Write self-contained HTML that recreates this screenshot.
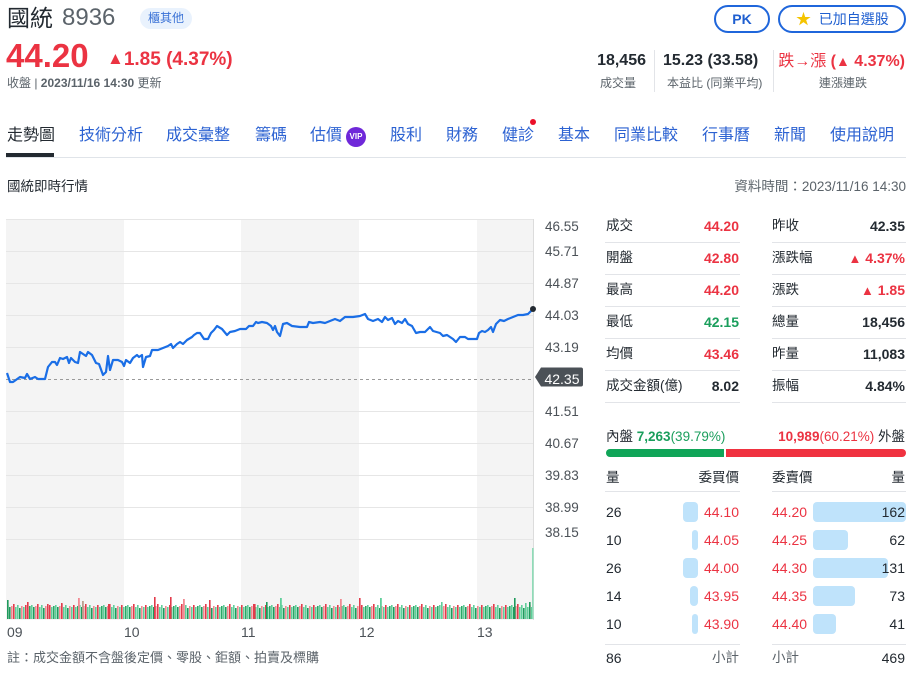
<!DOCTYPE html>
<html><head><meta charset="utf-8">
<style>
*{margin:0;padding:0;box-sizing:border-box}
body{width:914px;height:674px;background:#fff;overflow:hidden;font-family:"Liberation Sans","Noto Sans CJK TC",sans-serif;color:#232a31}
#w{position:relative;width:914px;height:674px}
.t{position:absolute;white-space:nowrap;line-height:20px;height:20px}
.r{color:#eb3342}.g{color:#1a9e5c}.b{font-weight:bold}
.gray{color:#5b636a}
.nav{color:#2c62d2;font-size:16px}
.sep{position:absolute;height:1px;background:#e2e4e8}
.bar{position:absolute;height:20px;background:#bfe3fb;border-radius:4px}
.tri{font-size:13px}
</style></head><body><div id="w">

<!-- Header -->
<div class="t" style="left:7px;top:5px;font-size:23px;line-height:26px;height:26px">國統</div>
<div class="t gray" style="left:62px;top:5px;font-size:24px;line-height:26px;height:26px">8936</div>
<div style="position:absolute;left:140px;top:8px;width:52px;height:21px;border-radius:11px;background:#e9f2fd;color:#3a72d6;font-size:12px;line-height:21px;text-align:center">櫃其他</div>

<div class="t r b" style="left:6px;top:37px;font-size:33px;line-height:38px;height:38px">44.20</div>
<div class="t r b" style="left:107px;top:49px;font-size:19px;line-height:22px;height:22px"><span style="font-size:17px;position:relative;top:-1px">▲</span>1.85 (4.37%)</div>
<div class="t gray" style="left:7px;top:73px;font-size:12px">收盤 | <b>2023/11/16 14:30</b> 更新</div>

<div style="position:absolute;left:714px;top:5px;width:56px;height:28px;border:2px solid #1f66db;border-radius:14px;color:#1f5fd0;font-weight:bold;font-size:14px;line-height:24px;text-align:center">PK</div>
<div style="position:absolute;left:778px;top:5px;width:128px;height:28px;border:2px solid #1f66db;border-radius:14px;color:#1f5fd0;font-size:14px;line-height:24px;text-align:left;padding-left:16px"><span style="color:#f5c400;font-size:15px">★</span>&nbsp; 已加自選股</div>

<div class="t b" style="right:268px;top:51px;font-size:16px">18,456</div>
<div class="t gray" style="left:600px;top:73px;font-size:12px">成交量</div>
<div style="position:absolute;left:654px;top:50px;width:1px;height:42px;background:#e2e4e8"></div>
<div class="t b" style="left:663px;top:51px;font-size:16px">15.23 (33.58)</div>
<div class="t gray" style="left:667px;top:73px;font-size:12px">本益比 (同業平均)</div>
<div style="position:absolute;left:773px;top:50px;width:1px;height:42px;background:#e2e4e8"></div>
<div class="t r" style="right:9px;top:51px;font-size:16px">跌→漲 <b>(<span style="font-size:14px">▲</span> 4.37%)</b></div>
<div class="t gray" style="left:819px;top:73px;font-size:12px">連漲連跌</div>

<!-- Nav -->
<div class="t" style="left:7px;top:126px;font-size:16px">走勢圖</div>
<div class="t nav" style="left:79px;top:126px">技術分析</div>
<div class="t nav" style="left:166px;top:126px">成交彙整</div>
<div class="t nav" style="left:255px;top:126px">籌碼</div>
<div class="t nav" style="left:310px;top:126px">估價</div>
<div style="position:absolute;left:346px;top:127px;width:20px;height:20px;border-radius:10px;background:#6f28d9;color:#fff;font-size:8px;font-weight:bold;line-height:20px;text-align:center">VIP</div>
<div class="t nav" style="left:390px;top:126px">股利</div>
<div class="t nav" style="left:446px;top:126px">財務</div>
<div class="t nav" style="left:502px;top:126px">健診</div>
<div style="position:absolute;left:530px;top:119px;width:6px;height:6px;border-radius:3px;background:#eb0f29"></div>
<div class="t nav" style="left:558px;top:126px">基本</div>
<div class="t nav" style="left:614px;top:126px">同業比較</div>
<div class="t nav" style="left:702px;top:126px">行事曆</div>
<div class="t nav" style="left:774px;top:126px">新聞</div>
<div class="t nav" style="left:830px;top:126px">使用說明</div>
<div style="position:absolute;left:6px;top:157px;width:900px;height:1px;background:#e0e4e9"></div>
<div style="position:absolute;left:6px;top:153px;width:48px;height:4px;background:#232a31"></div>

<div class="t" style="left:7px;top:177px;font-size:13.5px">國統即時行情</div>
<div class="t gray" style="right:8px;top:177px;font-size:13.5px">資料時間：2023/11/16 14:30</div>

<!-- Chart -->
<svg style="position:absolute;left:0;top:0" width="914" height="674" xmlns="http://www.w3.org/2000/svg">
<defs>
<pattern id="vp" patternUnits="userSpaceOnUse" x="7" y="599" width="24" height="20">
<rect x="0" y="6" width="1.6" height="14" fill="#5fcf9a"/>
<rect x="2" y="8" width="1.6" height="12" fill="#1f9a5c"/>
<rect x="4" y="7" width="1.6" height="13" fill="#f28a92"/>
<rect x="6" y="5" width="1.6" height="15" fill="#e23b4b"/>
<rect x="8" y="8" width="1.6" height="12" fill="#5fcf9a"/>
<rect x="10" y="6" width="1.6" height="14" fill="#5fcf9a"/>
<rect x="12" y="9" width="1.6" height="11" fill="#1f9a5c"/>
<rect x="14" y="7" width="1.6" height="13" fill="#f28a92"/>
<rect x="16" y="8" width="1.6" height="12" fill="#5fcf9a"/>
<rect x="18" y="6" width="1.6" height="14" fill="#e23b4b"/>
<rect x="20" y="8" width="1.6" height="12" fill="#5fcf9a"/>
<rect x="22" y="7" width="1.6" height="13" fill="#2aa866"/>
</pattern>
</defs>
<rect x="6" y="219" width="118" height="401" fill="#f4f4f4"/>
<rect x="241" y="219" width="118" height="401" fill="#f4f4f4"/>
<rect x="477" y="219" width="56" height="401" fill="#f4f4f4"/>
<g stroke="#e6e6e6" stroke-width="1">
<line x1="6" y1="219.5" x2="533" y2="219.5"/>
<line x1="6" y1="251.5" x2="533" y2="251.5"/>
<line x1="6" y1="283.5" x2="533" y2="283.5"/>
<line x1="6" y1="315.5" x2="533" y2="315.5"/>
<line x1="6" y1="347.5" x2="533" y2="347.5"/>
<line x1="6" y1="411.5" x2="533" y2="411.5"/>
<line x1="6" y1="443.5" x2="533" y2="443.5"/>
<line x1="6" y1="475.5" x2="533" y2="475.5"/>
<line x1="6" y1="507.5" x2="533" y2="507.5"/>
<line x1="6" y1="539.5" x2="533" y2="539.5"/>
</g>
<line x1="533.5" y1="219" x2="533.5" y2="620" stroke="#dcdcdc"/>
<line x1="6" y1="379.5" x2="533" y2="379.5" stroke="#9a9a9a" stroke-dasharray="3,3"/>
<!-- volume -->
<rect x="7" y="599" width="525" height="20" fill="url(#vp)"/>
<g>
<rect x="7" y="600" width="1.6" height="19" fill="#1f9a5c"/>
<rect x="27" y="602" width="1.6" height="17" fill="#e23b4b"/>
<rect x="47" y="604" width="1.6" height="15" fill="#e23b4b"/>
<rect x="61" y="603" width="1.6" height="16" fill="#e23b4b"/>
<rect x="78" y="598" width="1.8" height="21" fill="#f28a92"/>
<rect x="82" y="601" width="1.8" height="18" fill="#b9a08e"/>
<rect x="108" y="604" width="1.6" height="15" fill="#e23b4b"/>
<rect x="154" y="597" width="1.6" height="22" fill="#e23b4b"/>
<rect x="170" y="597" width="1.6" height="22" fill="#e23b4b"/>
<rect x="183" y="599" width="1.8" height="20" fill="#f28a92"/>
<rect x="209" y="600" width="1.6" height="19" fill="#e23b4b"/>
<rect x="254" y="604" width="1.6" height="15" fill="#e23b4b"/>
<rect x="266" y="602" width="1.6" height="17" fill="#1f9a5c"/>
<rect x="280" y="598" width="1.8" height="21" fill="#5fcf9a"/>
<rect x="340" y="599" width="1.8" height="20" fill="#f28a92"/>
<rect x="359" y="598" width="1.6" height="21" fill="#e23b4b"/>
<rect x="380" y="598" width="1.8" height="21" fill="#5fcf9a"/>
<rect x="441" y="602" width="1.6" height="17" fill="#5fcf9a"/>
<rect x="514" y="598" width="1.6" height="21" fill="#1f9a5c"/>
<rect x="525" y="603" width="1.6" height="16" fill="#5fcf9a"/>
<rect x="529" y="602" width="1.6" height="17" fill="#1f9a5c"/>
<rect x="532" y="548" width="1.6" height="71" fill="#8fdcb8"/>
</g>
<!-- price line -->
<polyline fill="none" stroke="#1a6ee6" stroke-width="2.2" stroke-linejoin="round" points="7,373 10,382 13,382 20,377 25,378 27,374 30,379 35,377 38,379 45,379 48,367 52,362 55,362 57,365 60,358 63,359 67,357 69,363 71,358 75,362 78,363 80,352 83,354 86,356 88,352 92,355 96,363 99,364 103,375 106,372 108,356 110,370 113,360 118,360 122,362 124,366 126,360 130,363 133,358 137,355 139,357 142,355 143,367 146,357 150,356 152,350 158,350 163,348 168,346 171,344 173,348 177,344 180,342 183,344 187,340 192,337 194,335 197,333 200,333 204,339 208,339 211,333 214,330 217,326 222,329 227,335 230,332 235,331 240,329 246,329 249,326 253,326 256,322 258,323 262,322 267,323 271,326 273,330 275,326 277,332 280,336 283,324 287,323 292,326 300,327 307,327 309,322 313,323 320,322 325,323 330,321 335,319 340,321 345,317 348,317 353,317 360,316 365,314 368,319 373,321 378,319 382,322 385,317 388,320 392,318 395,324 398,321 402,323 405,319 408,324 412,326 416,333 420,332 425,332 430,327 433,331 440,333 443,336 447,335 450,337 453,339 456,342 460,337 465,337 468,339 477,339 479,333 482,331 485,332 488,330 491,327 493,332 496,324 500,320 504,321 508,319 513,317 518,315 523,315 528,314 533,309"/>
<circle cx="533" cy="309" r="3" fill="#232a31"/>
<!-- y labels -->
<g font-family="Liberation Sans, sans-serif" font-size="13.5" fill="#4b5157">
<text x="545" y="231">46.55</text>
<text x="545" y="256">45.71</text>
<text x="545" y="288">44.87</text>
<text x="545" y="320">44.03</text>
<text x="545" y="352">43.19</text>
<text x="545" y="416">41.51</text>
<text x="545" y="448">40.67</text>
<text x="545" y="480">39.83</text>
<text x="545" y="512">38.99</text>
<text x="545" y="537">38.15</text>
</g>
<path d="M535,377 L541,367.5 L581,367.5 Q583,367.5 583,369.5 L583,384.5 Q583,386.5 581,386.5 L541,386.5 Z" fill="#4b5157"/>
<text x="562" y="384" text-anchor="middle" font-family="Liberation Sans, sans-serif" font-size="14" fill="#fff">42.35</text>
<g font-family="Liberation Sans, sans-serif" font-size="14" fill="#4b5157">
<text x="7" y="637">09</text>
<text x="124" y="637">10</text>
<text x="241" y="637">11</text>
<text x="359" y="637">12</text>
<text x="477" y="637">13</text>
</g>
</svg>

<div class="t gray" style="left:7px;top:648px;font-size:13px">註：成交金額不含盤後定價、零股、鉅額、拍賣及標購</div>

<!-- Right table -->
<div class="t" style="left:606px;top:216px;font-size:13.5px">成交</div><div class="t b r" style="right:175px;top:216px;font-size:14px">44.20</div>
<div class="t" style="left:772px;top:216px;font-size:13.5px">昨收</div><div class="t b" style="right:9px;top:216px;font-size:14px">42.35</div>
<div class="sep" style="left:605px;top:242px;width:135px"></div><div class="sep" style="left:772px;top:242px;width:134px"></div>

<div class="t" style="left:606px;top:248px;font-size:13.5px">開盤</div><div class="t b r" style="right:175px;top:248px;font-size:14px">42.80</div>
<div class="t" style="left:772px;top:248px;font-size:13.5px">漲跌幅</div><div class="t b r" style="right:9px;top:248px;font-size:14px"><span class="tri">▲</span> 4.37%</div>
<div class="sep" style="left:605px;top:274px;width:135px"></div><div class="sep" style="left:772px;top:274px;width:134px"></div>

<div class="t" style="left:606px;top:280px;font-size:13.5px">最高</div><div class="t b r" style="right:175px;top:280px;font-size:14px">44.20</div>
<div class="t" style="left:772px;top:280px;font-size:13.5px">漲跌</div><div class="t b r" style="right:9px;top:280px;font-size:14px"><span class="tri">▲</span> 1.85</div>
<div class="sep" style="left:605px;top:306px;width:135px"></div><div class="sep" style="left:772px;top:306px;width:134px"></div>

<div class="t" style="left:606px;top:312px;font-size:13.5px">最低</div><div class="t b g" style="right:175px;top:312px;font-size:14px">42.15</div>
<div class="t" style="left:772px;top:312px;font-size:13.5px">總量</div><div class="t b" style="right:9px;top:312px;font-size:14px">18,456</div>
<div class="sep" style="left:605px;top:338px;width:135px"></div><div class="sep" style="left:772px;top:338px;width:134px"></div>

<div class="t" style="left:606px;top:344px;font-size:13.5px">均價</div><div class="t b r" style="right:175px;top:344px;font-size:14px">43.46</div>
<div class="t" style="left:772px;top:344px;font-size:13.5px">昨量</div><div class="t b" style="right:9px;top:344px;font-size:14px">11,083</div>
<div class="sep" style="left:605px;top:370px;width:135px"></div><div class="sep" style="left:772px;top:370px;width:134px"></div>

<div class="t" style="left:606px;top:376px;font-size:13.5px">成交金額(億)</div><div class="t b" style="right:175px;top:376px;font-size:14px">8.02</div>
<div class="t" style="left:772px;top:376px;font-size:13.5px">振幅</div><div class="t b" style="right:9px;top:376px;font-size:14px">4.84%</div>
<div class="sep" style="left:605px;top:402px;width:135px"></div><div class="sep" style="left:772px;top:402px;width:134px"></div>

<div class="t" style="left:606px;top:427px;font-size:13.5px">內盤 <b class="g">7,263</b><span class="g">(39.79%)</span></div>
<div class="t" style="right:9px;top:427px;font-size:13.5px"><b class="r">10,989</b><span class="r">(60.21%)</span> 外盤</div>
<div style="position:absolute;left:606px;top:449px;width:118px;height:8px;background:#10a558;border-radius:4px 0 0 4px"></div>
<div style="position:absolute;left:726px;top:449px;width:180px;height:8px;background:#f03240;border-radius:0 4px 4px 0"></div>

<div class="t" style="left:606px;top:468px;font-size:13.5px">量</div>
<div class="t" style="right:175px;top:468px;font-size:13.5px">委買價</div>
<div class="t" style="left:772px;top:468px;font-size:13.5px">委賣價</div>
<div class="t" style="right:9px;top:468px;font-size:13.5px">量</div>
<div class="sep" style="left:605px;top:491px;width:135px"></div><div class="sep" style="left:772px;top:491px;width:134px"></div>

<div class="bar" style="left:683px;top:502px;width:15px"></div>
<div class="bar" style="left:692px;top:530px;width:6px"></div>
<div class="bar" style="left:683px;top:558px;width:15px"></div>
<div class="bar" style="left:690px;top:586px;width:8px"></div>
<div class="bar" style="left:692px;top:614px;width:6px"></div>
<div class="bar" style="left:813px;top:502px;width:93px"></div>
<div class="bar" style="left:813px;top:530px;width:35px"></div>
<div class="bar" style="left:813px;top:558px;width:75px"></div>
<div class="bar" style="left:813px;top:586px;width:42px"></div>
<div class="bar" style="left:813px;top:614px;width:23px"></div>

<div class="t" style="left:606px;top:502px;font-size:14px">26</div><div class="t r" style="right:175px;top:502px;font-size:14px">44.10</div><div class="t r" style="left:772px;top:502px;font-size:14px">44.20</div><div class="t" style="right:9px;top:502px;font-size:14px">162</div>
<div class="t" style="left:606px;top:530px;font-size:14px">10</div><div class="t r" style="right:175px;top:530px;font-size:14px">44.05</div><div class="t r" style="left:772px;top:530px;font-size:14px">44.25</div><div class="t" style="right:9px;top:530px;font-size:14px">62</div>
<div class="t" style="left:606px;top:558px;font-size:14px">26</div><div class="t r" style="right:175px;top:558px;font-size:14px">44.00</div><div class="t r" style="left:772px;top:558px;font-size:14px">44.30</div><div class="t" style="right:9px;top:558px;font-size:14px">131</div>
<div class="t" style="left:606px;top:586px;font-size:14px">14</div><div class="t r" style="right:175px;top:586px;font-size:14px">43.95</div><div class="t r" style="left:772px;top:586px;font-size:14px">44.35</div><div class="t" style="right:9px;top:586px;font-size:14px">73</div>
<div class="t" style="left:606px;top:614px;font-size:14px">10</div><div class="t r" style="right:175px;top:614px;font-size:14px">43.90</div><div class="t r" style="left:772px;top:614px;font-size:14px">44.40</div><div class="t" style="right:9px;top:614px;font-size:14px">41</div>

<div class="sep" style="left:605px;top:644px;width:135px"></div><div class="sep" style="left:772px;top:644px;width:134px"></div>
<div class="t" style="left:606px;top:648px;font-size:14px">86</div>
<div class="t gray" style="right:175px;top:648px;font-size:13.5px">小計</div>
<div class="t gray" style="left:772px;top:648px;font-size:13.5px">小計</div>
<div class="t" style="right:9px;top:648px;font-size:14px">469</div>

</div></body></html>
